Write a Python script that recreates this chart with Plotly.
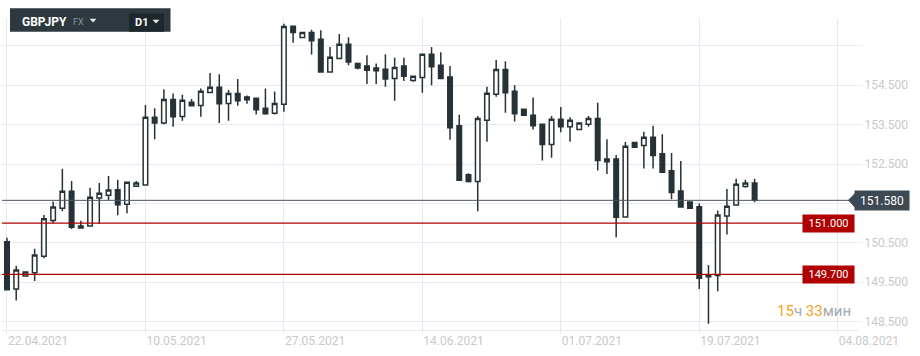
import plotly.graph_objects as go

# ---- data (GBPJPY, D1) ----
opens = [150.53, 149.33, 149.66, 149.74, 150.16, 151.07, 151.38, 151.81, 150.88, 150.93,
         151.64, 151.71, 151.85, 151.48, 151.94, 151.97, 153.69, 153.54, 154.14, 153.71,
         154.07, 153.99, 154.32, 154.45, 154.04, 154.29, 154.20, 154.17, 153.92, 153.79,
         154.02, 156.00, 155.71, 155.84, 155.67, 154.84, 155.18, 155.54, 155.05, 154.99,
         154.94, 154.91, 154.67, 154.99, 154.62, 154.70, 155.29, 155.01, 154.71, 153.47,
         152.23, 152.06, 153.61, 154.27, 154.90, 154.35, 153.89, 153.74, 153.51, 153.00,
         153.64, 153.45, 153.38, 153.51, 153.66, 152.63, 152.63, 151.16, 153.05, 152.97,
         153.18, 152.76, 152.33, 151.82, 151.54, 151.42, 149.69, 149.67, 151.18, 151.46,
         151.93, 152.02]
highs = [150.63, 149.92, 149.78, 150.35, 151.21, 151.55, 152.38, 152.07, 151.06, 151.90,
         152.02, 152.20, 152.10, 152.06, 152.07, 154.00, 153.92, 154.40, 154.29, 154.26,
         154.15, 154.42, 154.81, 154.78, 154.38, 154.66, 154.24, 154.18, 154.42, 154.34,
         156.06, 156.02, 155.85, 155.91, 155.90, 155.47, 155.80, 155.72, 155.08, 155.26,
         155.05, 155.29, 155.20, 155.20, 154.74, 155.31, 155.47, 155.34, 154.99, 153.75,
         152.27, 153.72, 154.46, 155.14, 155.11, 154.50, 153.89, 154.19, 153.51, 153.72,
         153.95, 153.69, 153.54, 153.72, 154.06, 153.13, 152.73, 153.06, 153.05, 153.32,
         153.47, 153.26, 152.78, 152.58, 151.54, 151.50, 149.94, 151.32, 151.87, 152.13,
         152.10, 152.13]
lows = [149.30, 149.04, 149.64, 149.53, 150.11, 151.00, 151.30, 150.85, 150.87, 150.92,
        150.98, 151.59, 151.20, 151.25, 151.93, 151.96, 153.13, 153.51, 153.45, 153.60,
        153.96, 153.70, 154.32, 153.54, 153.60, 153.98, 154.03, 153.76, 153.75, 153.76,
        153.83, 155.58, 155.70, 155.28, 154.82, 154.83, 155.16, 155.01, 154.91, 154.53,
        154.53, 154.46, 154.11, 154.61, 154.59, 154.31, 154.50, 154.66, 153.12, 152.08,
        152.03, 151.30, 153.07, 154.21, 153.80, 153.58, 153.74, 153.38, 152.59, 152.66,
        153.31, 153.07, 153.38, 153.45, 152.34, 152.25, 150.64, 151.15, 152.93, 152.39,
        152.39, 152.28, 151.61, 151.40, 151.38, 149.33, 148.45, 149.27, 150.71, 151.46,
        151.90, 151.53]
closes = [149.31, 149.81, 149.76, 150.19, 151.11, 151.41, 151.81, 150.90, 150.93, 151.66,
          151.76, 151.84, 151.47, 152.04, 152.02, 153.69, 153.54, 154.14, 153.70, 154.12,
          153.98, 154.35, 154.45, 154.03, 154.29, 154.11, 154.13, 153.88, 153.78, 154.04,
          155.99, 155.84, 155.84, 155.63, 154.84, 155.21, 155.54, 155.09, 154.94, 154.88,
          154.87, 154.66, 154.95, 154.73, 154.73, 155.29, 154.97, 154.67, 153.42, 152.09,
          152.06, 153.66, 154.30, 154.90, 154.31, 153.78, 153.74, 153.47, 153.00, 153.64,
          153.45, 153.61, 153.54, 153.66, 152.59, 152.56, 151.15, 152.95, 152.93, 153.18,
          152.72, 152.29, 151.78, 151.41, 151.38, 149.60, 149.64, 151.21, 151.43, 151.99,
          152.02, 151.58]

date_ticks = [0, 15, 30, 45, 60, 75, 90]
date_labels = ["22.04.2021", "10.05.2021", "27.05.2021", "14.06.2021",
               "01.07.2021", "19.07.2021", "04.08.2021"]
price_ticks = [148.5, 149.5, 150.5, 151.5, 152.5, 153.5, 154.5, 155.5]
price_labels = ["148.500", "149.500", "150.500", "", "152.500", "153.500", "154.500", ""]

current_price = 151.58
levels = [151.000, 149.700]
symbol = "GBPJPY"
market = "FX"
timeframe = "D1"
timer_h, timer_m = "15", "33"

# ---- style ----
FONT = "Roboto"
GRID = "#e8e8f3"
LABEL = "#c9c9c9"
CANDLE = "#263238"
RED = "#b00000"
TAG = "#3d4a54"

W, H = 920, 356
ML, MR, MT, MB = 2, 62, 18, 26
PW, PH = W - ML - MR, H - MT - MB


def px(x):
    return (x - ML) / PW


def py(y):
    return (H - MB - y) / PH


x_idx = list(range(len(opens)))

fig = go.Figure()
fig.add_trace(go.Candlestick(
    x=x_idx, open=opens, high=highs, low=lows, close=closes,
    increasing=dict(line=dict(color=CANDLE, width=1.5), fillcolor="#ffffff"),
    decreasing=dict(line=dict(color=CANDLE, width=1.5), fillcolor=CANDLE),
    whiskerwidth=0, hoverinfo="skip", showlegend=False,
))

shapes = []
annotations = []

# level lines and labels
for lv in levels:
    shapes.append(dict(type="line", xref="paper", yref="y", x0=0, x1=px(806), y0=lv, y1=lv,
                       line=dict(color=RED, width=1.3), layer="above"))
    annotations.append(dict(xref="paper", yref="y", x=px(828.5), y=lv, text=f"{lv:.3f}",
                            showarrow=False, bgcolor=RED, width=49, height=15,
                            font=dict(family=FONT, size=11, color="#ffffff"),
                            xanchor="center", yanchor="middle"))

# current price line + tag
shapes.append(dict(type="line", xref="paper", yref="y", x0=0, x1=px(850), y0=current_price,
                   y1=current_price, line=dict(color="#4b5660", width=1), layer="above"))
ppu = PH / (156.208 - 148.289)
dy = 9.3 / ppu
shapes.append(dict(type="path", xref="paper", yref="y",
                   path=f"M {px(848)},{current_price} L {px(857)},{current_price + dy} "
                        f"L {px(857)},{current_price - dy} Z",
                   fillcolor=TAG, line=dict(width=0), layer="above"))
annotations.append(dict(xref="paper", yref="y", x=px(882), y=current_price,
                        text=f"{current_price:.3f}", showarrow=False, bgcolor=TAG,
                        width=52, height=17, xanchor="center", yanchor="middle",
                        font=dict(family=FONT, size=12, color="#ffffff")))

# header box
shapes.append(dict(type="rect", xref="paper", yref="paper", x0=px(10), x1=px(170.5),
                   y0=py(31.7), y1=py(8.3), fillcolor="#2e393f", line=dict(width=0), layer="above"))
shapes.append(dict(type="rect", xref="paper", yref="paper", x0=px(129), x1=px(164),
                   y0=py(31.7), y1=py(13.3), fillcolor="#1e272c", line=dict(width=0), layer="above"))
for (cx, cy, col) in [(93, 20.5, "#e8e8e8"), (156, 21.5, "#e8e8e8")]:
    shapes.append(dict(type="path", xref="paper", yref="paper",
                       path=f"M {px(cx - 3.5)},{py(cy - 1.8)} L {px(cx + 3.5)},{py(cy - 1.8)} "
                            f"L {px(cx)},{py(cy + 2)} Z",
                       fillcolor=col, line=dict(width=0), layer="above"))
annotations.append(dict(xref="paper", yref="paper", x=px(20), y=py(22), text=f"<b>{symbol}</b>",
                        showarrow=False, xanchor="left", yanchor="middle",
                        font=dict(family=FONT, size=12, color="#ffffff")))
annotations.append(dict(xref="paper", yref="paper", x=px(71), y=py(22), text=market,
                        showarrow=False, xanchor="left", yanchor="middle",
                        font=dict(family=FONT, size=9, color="#8d979c")))
annotations.append(dict(xref="paper", yref="paper", x=px(133), y=py(22.5), text=f"<b>{timeframe}</b>",
                        showarrow=False, xanchor="left", yanchor="middle",
                        font=dict(family=FONT, size=11, color="#ffffff")))

# countdown
annotations.append(dict(xref="paper", yref="paper", x=px(853), y=py(310.5),
                        text=(f"<span style='color:#f7a21b'>{timer_h}</span>ч "
                              f"<span style='color:#f7a21b'>{timer_m}</span>мин"),
                        showarrow=False, xanchor="right", yanchor="middle",
                        font=dict(family=FONT, size=15, color="#a3a9ad")))

fig.update_layout(
    width=W, height=H,
    margin=dict(l=ML, r=MR, t=MT, b=MB, pad=0),
    paper_bgcolor="#ffffff", plot_bgcolor="#ffffff",
    font=dict(family=FONT, size=12, color=LABEL),
    hovermode=False, showlegend=False,
    shapes=shapes, annotations=annotations,
    xaxis=dict(range=[-0.54, 92.2], tickmode="array", tickvals=date_ticks, ticktext=date_labels,
               ticklabelposition="outside right", ticks="outside", ticklen=3, tickcolor=GRID,
               showgrid=True, gridcolor=GRID, gridwidth=1, zeroline=False,
               showline=True, linecolor=GRID, linewidth=1,
               rangeslider=dict(visible=False), fixedrange=True,
               tickfont=dict(family=FONT, size=12, color=LABEL)),
    yaxis=dict(range=[148.289, 156.208], side="right", tickmode="array", tickvals=price_ticks,
               ticktext=price_labels, showgrid=True, gridcolor=GRID, gridwidth=1, zeroline=False,
               ticks="outside", ticklen=3, tickcolor=GRID, showline=False, fixedrange=True,
               tickfont=dict(family=FONT, size=12, color=LABEL)),
)

fig.write_html("out.html", config={"displayModeBar": False})
